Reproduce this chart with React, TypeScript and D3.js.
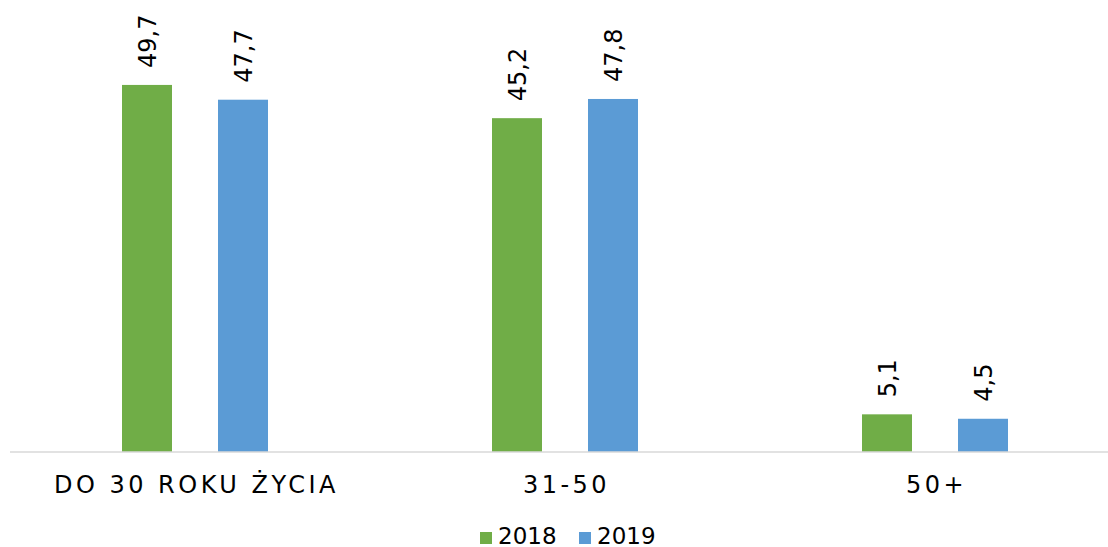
import React from "react";
import * as d3 from "d3";

const categories = ["DO 30 ROKU ŻYCIA", "31-50", "50+"];
const seriesNames = ["2018", "2019"];
const values2018 = [49.7, 45.2, 5.1];
const values2019 = [47.7, 47.8, 4.5];
const labels2018 = ["49,7", "45,2", "5,1"];
const labels2019 = ["47,7", "47,8", "4,5"];
const colors = ["#70AD47", "#5B9BD5"];

const W = 1108;
const H = 547;
const FONT = "'DejaVu Sans', Verdana, sans-serif";

export default function App() {
  const baseline = 452;
  const x = d3.scaleBand<string>().domain(categories).range([10, 1120]).paddingInner(0).paddingOuter(0);
  const xs = d3
    .scaleBand<string>()
    .domain(seriesNames)
    .range([0, x.bandwidth()])
    .paddingInner(46 / 96)
    .paddingOuter(1.1667);
  const y = d3.scaleLinear().domain([0, 61.2]).range([baseline, 0]);
  const series = [
    { name: seriesNames[0], values: values2018, labels: labels2018, color: colors[0] },
    { name: seriesNames[1], values: values2019, labels: labels2019, color: colors[1] },
  ];

  const legendItems = [
    { name: seriesNames[0], color: colors[0], x: 480 },
    { name: seriesNames[1], color: colors[1], x: 579 },
  ];

  return (
    <div style={{ position: "fixed", left: 0, top: 0 }}>
      <svg width={W} height={H} style={{ display: "block", background: "#fff" }} fontFamily={FONT}>
        {series.map((s) =>
          categories.map((c, i) => {
            const bx = (x(c) as number) + (xs(s.name) as number);
            const bw = xs.bandwidth();
            const top = y(s.values[i]);
            return (
              <g key={s.name + c}>
                <rect x={bx} y={top} width={bw} height={baseline - top} fill={s.color} />
                <text
                  transform={`translate(${bx + bw / 2 + 9},${top - 17}) rotate(-90)`}
                  fontSize={24}
                  fill="#000"
                  textAnchor="start"
                >
                  {s.labels[i]}
                </text>
              </g>
            );
          })
        )}
        <line x1={10} x2={W} y1={baseline} y2={baseline} stroke="#D9D9D9" strokeWidth={1.5} />
        {categories.map((c) => (
          <text
            key={c}
            x={(x(c) as number) + x.bandwidth() / 2 + 1.5}
            y={493}
            fontSize={24}
            letterSpacing={3.5}
            textAnchor="middle"
            fill="#000"
          >
            {c}
          </text>
        ))}
        {legendItems.map((l) => (
          <g key={l.name}>
            <rect x={l.x} y={532} width={12} height={12} fill={l.color} />
            <text x={l.x + 18} y={544} fontSize={23} fill="#000">
              {l.name}
            </text>
          </g>
        ))}
      </svg>
    </div>
  );
}
